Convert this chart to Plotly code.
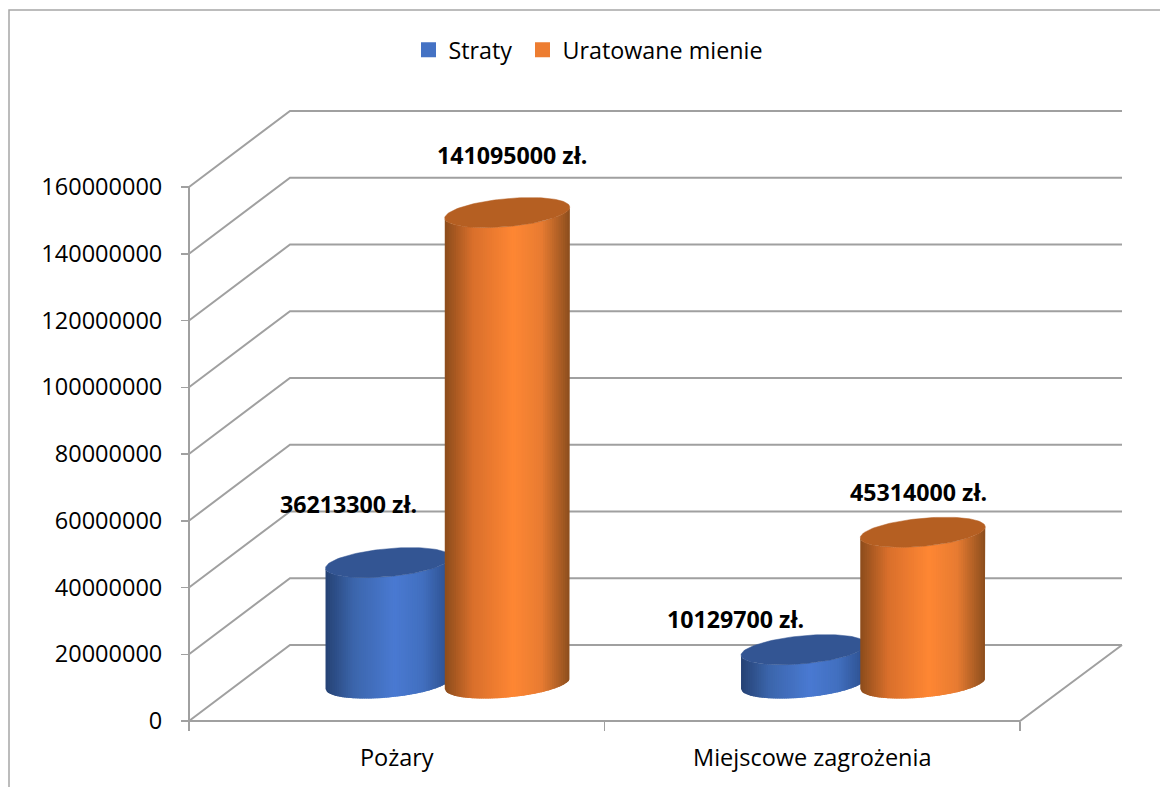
import numpy as np
import plotly.graph_objects as go

# ---- data ----
categories = ["Pożary", "Miejscowe zagrożenia"]
series_names = ["Straty", "Uratowane mienie"]
straty = [36213300, 10129700]
uratowane = [141095000, 45314000]
y_ticks = [0, 20000000, 40000000, 60000000, 80000000, 100000000, 120000000, 140000000, 160000000]
label_straty = ["36213300 zł.", "10129700 zł."]
label_uratowane = ["141095000 zł.", "45314000 zł."]

# ---- geometry of the pseudo-3D scene (pixels of the 1160x787 page) ----
W, H = 1160, 787
X0, CAT_PX = 189.0, 415.5          # left of the front floor edge, width of a category
Y0, PX_PER_UNIT = 721.0, 534.0 / 160000000  # front zero line, vertical scale
DEPTH_X, DEPTH_Y = 101.0, 76.0     # receding offset of the back wall
FLOOR_Y = 37.5                     # cylinder centre is this far behind the front edge
OFFS = [0.479, 0.766]              # cylinder centres inside a category
A = 62.5                           # half width in px
B, S = 14.0, 5.5                   # ellipse half height and tilt in px
GRID = "#a0a0a0"
FONT = "Open Sans, Noto Sans, sans-serif"
TICK_SIZE = 23.5
STOPS_U = [-1, -0.55, 0.1, 0.55, 1]
STOPS = [
    [(38, 66, 116), (60, 102, 172), (74, 122, 210), (66, 112, 192), (44, 78, 140)],
    [(140, 76, 28), (218, 112, 44), (255, 135, 52), (232, 124, 50), (140, 78, 30)],
]
TOPS = ["#335593", "#b55f22"]
LEGEND = ["#4472c4", "#ed7d31"]

xpx = lambda v: (np.asarray(v, float) - X0) / CAT_PX          # px -> x data
dypx = lambda p: np.asarray(p, float) / PX_PER_UNIT           # px height -> y data
ypx = lambda p: (Y0 - np.asarray(p, float)) / PX_PER_UNIT     # px -> y data

fig = go.Figure()

# floor and walls
gx, gy = [], []
for t in y_ticks:
    gx += [0, xpx(X0 + DEPTH_X), xpx(1122), None]
    gy += [t, t + dypx(DEPTH_Y), t + dypx(DEPTH_Y), None]
gx += [0, 0, None, 0, 2, xpx(1122), None]
gy += [y_ticks[0], y_ticks[-1], None, 0, 0, dypx(DEPTH_Y), None]
fig.add_trace(go.Scatter(x=gx, y=gy, mode="lines", line=dict(color=GRID, width=2),
                         hoverinfo="skip", showlegend=False))


def cylinder(cx_data, value, s_idx):
    base = dypx(FLOOR_Y)
    ha = A / CAT_PX
    b, s = dypx(B), dypx(S)
    n = 56
    us = np.linspace(-1, 1, n + 1)
    stops = np.array(STOPS[s_idx], float)
    for i in range(n):
        # each band runs on under the next one, so no seams show between bands
        u = np.linspace(us[i], min(us[i + 1] + 0.03, 1.0), 4)
        low = -b * np.sqrt(np.clip(1 - u ** 2, 0, 1)) + s * u
        x = cx_data + ha * u
        px = np.r_[x, x[::-1], x[0]]
        py = np.r_[base + value + low, (base + low)[::-1], base + value + low[0]]
        um = (us[i] + us[i + 1]) / 2
        c = [int(np.interp(um, STOPS_U, stops[:, k])) for k in range(3)]
        col = f"rgb({c[0]},{c[1]},{c[2]})"
        fig.add_trace(go.Scatter(x=px, y=py, mode="lines", fill="toself", fillcolor=col,
                                 line=dict(width=0), hoverinfo="skip", showlegend=False))
    t = np.linspace(0, 2 * np.pi, 121)
    fig.add_trace(go.Scatter(x=cx_data + ha * np.cos(t),
                             y=base + value + s * np.cos(t) + b * np.sin(t),
                             mode="lines", fill="toself", fillcolor=TOPS[s_idx],
                             line=dict(color=TOPS[s_idx], width=0.5),
                             hoverinfo="skip", showlegend=False))


for c_idx in range(len(categories)):
    cylinder(c_idx + OFFS[0], straty[c_idx], 0)
    cylinder(c_idx + OFFS[1], uratowane[c_idx], 1)

# legend entries
for name, col, lg in zip(series_names, LEGEND, ["legend", "legend2"]):
    fig.add_trace(go.Scatter(x=[None], y=[None], mode="markers", name=name, legend=lg,
                             showlegend=True,
                             marker=dict(symbol="square", size=15, color=col)))

# data labels, placed by hand in the reference relative to each cylinder top
label_pos = [
    (label_straty[0], 348, 504), (label_straty[1], 735, 619),
    (label_uratowane[0], 512, 155), (label_uratowane[1], 918, 492),
]
annotations = [dict(text=f"<b>{t}</b>", x=float(xpx(lx)), y=float(ypx(ly)), xref="x", yref="y",
                    showarrow=False, xanchor="center", yanchor="middle",
                    font=dict(family=FONT, size=23.2, color="black"))
               for t, lx, ly in label_pos]

legend_common = dict(orientation="h", y=1 - 50 / H, xanchor="left", yanchor="middle",
                     font=dict(family=FONT, size=23.3), bgcolor="rgba(0,0,0,0)")

fig.update_layout(
    width=W, height=H, margin=dict(l=0, r=0, t=0, b=0),
    paper_bgcolor="white", plot_bgcolor="white",
    font=dict(family=FONT, size=TICK_SIZE, color="black"),
    xaxis=dict(range=[float(xpx(0)), float(xpx(W))], domain=[0, 1], anchor="free",
               position=(H - Y0) / H,
               tickmode="array", tickvals=[0.5, 1.5], ticktext=categories, ticks="",
               ticklabelstandoff=20, showgrid=False, zeroline=False, showline=False,
               tickfont=dict(family=FONT, size=TICK_SIZE),
               minor=dict(tickmode="array", tickvals=[0, 1, 2], ticks="outside", ticklen=9,
                          tickwidth=1.5, tickcolor=GRID, showgrid=False)),
    yaxis=dict(range=[float(ypx(H)), float(ypx(0))], domain=[0, 1], anchor="free",
               position=X0 / W,
               tickmode="array", tickvals=y_ticks, ticktext=[str(v) for v in y_ticks],
               ticks="outside", ticklen=8, tickwidth=1.5, tickcolor=GRID, ticklabelstandoff=14,
               showgrid=False, zeroline=False, showline=False,
               tickfont=dict(family=FONT, size=TICK_SIZE)),
    legend=dict(x=408.5 / W, **legend_common),
    legend2=dict(x=522.5 / W, **legend_common),
    annotations=annotations,
    shapes=[dict(type="path", xref="paper", yref="paper",
                 path=f"M {9 / W} 0 L {9 / W} {1 - 10 / H} L 1 {1 - 10 / H}",
                 line=dict(color="#a6a6a6", width=1.5))],
)

fig.write_html("out.html", config=dict(displayModeBar=False, staticPlot=True),
               post_script="document.body.style.margin='0';document.documentElement.style.overflow='hidden';")
